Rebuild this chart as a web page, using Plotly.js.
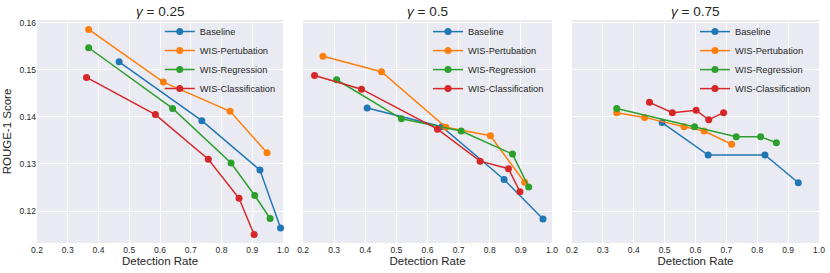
<!DOCTYPE html>
<html>
<head>
<meta charset="utf-8">
<script src="https://cdn.plot.ly/plotly-3.0.1.min.js"></script>
<style>html,body{margin:0;padding:0;background:#fff}#chart{width:830px;height:273px}</style>
</head>
<body>
<div id="chart"></div>
<script>
// ---- data ----
const seriesNames = ["Baseline", "WIS-Pertubation", "WIS-Regression", "WIS-Classification"];
const seriesColors = ["#1f77b4", "#ff7f0e", "#2ca02c", "#d62728"];
const panelTitles = ["<i>γ</i> = 0.25", "<i>γ</i> = 0.5", "<i>γ</i> = 0.75"];

// gamma = 0.25
const g25_baseline_x = [0.467, 0.736, 0.925, 0.992];
const g25_baseline_y = [0.1517, 0.1392, 0.1287, 0.1164];
const g25_pert_x = [0.368, 0.611, 0.828, 0.948];
const g25_pert_y = [0.1586, 0.1474, 0.1412, 0.1324];
const g25_reg_x = [0.368, 0.641, 0.831, 0.908, 0.958];
const g25_reg_y = [0.1547, 0.1418, 0.1302, 0.1233, 0.1184];
const g25_cls_x = [0.361, 0.585, 0.757, 0.857, 0.906];
const g25_cls_y = [0.1484, 0.1405, 0.1310, 0.1227, 0.1150];

// gamma = 0.5
const g50_baseline_x = [0.406, 0.646, 0.846, 0.971];
const g50_baseline_y = [0.1419, 0.1379, 0.1267, 0.1183];
const g50_pert_x = [0.264, 0.452, 0.659, 0.802, 0.912];
const g50_pert_y = [0.1529, 0.1496, 0.1378, 0.1360, 0.1261];
const g50_reg_x = [0.308, 0.516, 0.708, 0.873, 0.925];
const g50_reg_y = [0.1479, 0.1396, 0.1370, 0.1321, 0.1251];
const g50_cls_x = [0.237, 0.388, 0.632, 0.769, 0.860, 0.897];
const g50_cls_y = [0.1488, 0.1459, 0.1374, 0.1306, 0.1290, 0.1241];

// gamma = 0.75
const g75_baseline_x = [0.492, 0.641, 0.825, 0.933];
const g75_baseline_y = [0.1388, 0.1319, 0.1319, 0.1260];
const g75_pert_x = [0.345, 0.435, 0.563, 0.628, 0.717];
const g75_pert_y = [0.1409, 0.1399, 0.1379, 0.1370, 0.1342];
const g75_reg_x = [0.345, 0.597, 0.732, 0.811, 0.862];
const g75_reg_y = [0.1418, 0.1379, 0.1358, 0.1358, 0.1345];
const g75_cls_x = [0.451, 0.525, 0.602, 0.643, 0.691];
const g75_cls_y = [0.1431, 0.1409, 0.1414, 0.1394, 0.1409];

const xTickVals = [0.2, 0.3, 0.4, 0.5, 0.6, 0.7, 0.8, 0.9, 1.0];
const yTickVals = [0.12, 0.13, 0.14, 0.15, 0.16];

const panels = [
  [[g25_baseline_x, g25_baseline_y], [g25_pert_x, g25_pert_y], [g25_reg_x, g25_reg_y], [g25_cls_x, g25_cls_y]],
  [[g50_baseline_x, g50_baseline_y], [g50_pert_x, g50_pert_y], [g50_reg_x, g50_reg_y], [g50_cls_x, g50_cls_y]],
  [[g75_baseline_x, g75_baseline_y], [g75_pert_x, g75_pert_y], [g75_reg_x, g75_reg_y], [g75_cls_x, g75_cls_y]]
];

const FONT = "Liberation Sans, Arial, sans-serif";
const traces = [];
panels.forEach((p, pi) => {
  p.forEach((s, si) => {
    traces.push({
      type: "scatter", mode: "lines+markers",
      x: s[0], y: s[1], name: seriesNames[si],
      xaxis: pi === 0 ? "x" : "x" + (pi + 1),
      yaxis: pi === 0 ? "y" : "y" + (pi + 1),
      legend: pi === 0 ? "legend" : "legend" + (pi + 1),
      line: {color: seriesColors[si], width: 1.5},
      marker: {color: seriesColors[si], size: 7},
      cliponaxis: false
    });
  });
});

const domains = [[0, 0.3146], [0.3402, 0.6586], [0.6841, 1]];
const legendX = [0.157, 0.50, 0.8414];
const layout = {
  width: 830, height: 273,
  margin: {l: 37, r: 11, t: 20, b: 30},
  paper_bgcolor: "#ffffff",
  plot_bgcolor: "#EAEAF2",
  font: {family: FONT, size: 9, color: "#262626"},
  annotations: [],
  showlegend: true
};
domains.forEach((d, i) => {
  const sx = i === 0 ? "" : String(i + 1);
  layout["xaxis" + sx] = {
    domain: d, range: [0.2, 1.0], tickvals: xTickVals, tickformat: ".1f",
    showgrid: true, gridcolor: "#ffffff", gridwidth: 1, zeroline: false,
    showline: false, ticks: "", ticklen: 0, anchor: "y" + sx,
    tickfont: {size: 8.5, color: "#262626"},
    title: {text: "Detection Rate", font: {size: 11.5, color: "#262626"}, standoff: 3}
  };
  layout["yaxis" + sx] = {
    range: [0.1132, 0.1606], tickvals: yTickVals, tickformat: ".2f",
    showgrid: true, gridcolor: "#ffffff", gridwidth: 1, zeroline: false,
    showline: false, ticks: "", anchor: "x" + sx,
    showticklabels: i === 0,
    tickfont: {size: 8.5, color: "#262626"},
    title: i === 0 ? {text: "ROUGE-1 Score", font: {size: 11.5, color: "#262626"}, standoff: 5} : {text: ""}
  };
  layout[i === 0 ? "legend" : "legend" + (i + 1)] = {
    x: legendX[i], y: 1.013, xref: "paper", yref: "paper",
    xanchor: "left", yanchor: "top",
    bgcolor: "rgba(0,0,0,0)", borderwidth: 0,
    font: {size: 9.3, color: "#262626"}, itemwidth: 30
  };
  layout.annotations.push({
    text: panelTitles[i], xref: "paper", yref: "paper",
    x: (d[0] + d[1]) / 2, y: 1, yanchor: "bottom", xanchor: "center",
    showarrow: false, font: {size: 13.5, color: "#262626"}, yshift: -1
  });
});

Plotly.newPlot("chart", traces, layout, {displayModeBar: false, staticPlot: true});
</script>
</body>
</html>
